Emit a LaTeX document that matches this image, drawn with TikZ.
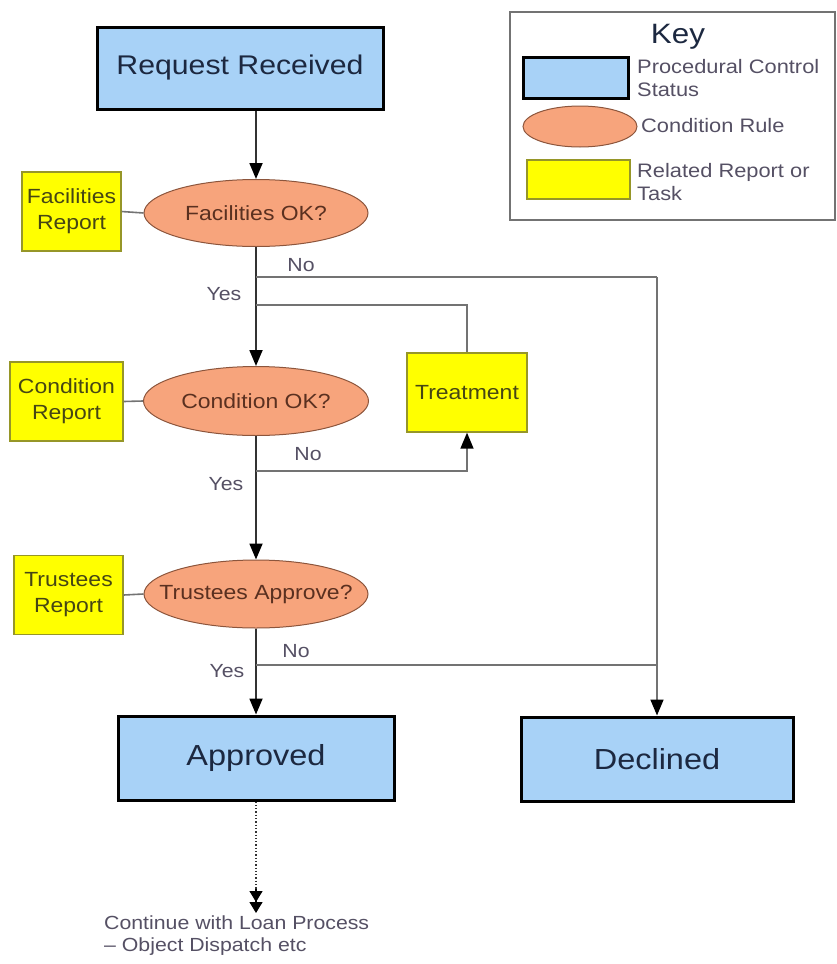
\documentclass[tikz,border=0pt]{standalone}
\usepackage{fontspec}
\setmainfont[FakeStretch=1.12]{Liberation Sans}
\usetikzlibrary{arrows.meta,shapes.geometric}
\definecolor{boxblue}{RGB}{168,210,247}
\definecolor{salmon}{RGB}{247,164,124}
\definecolor{ruleedge}{RGB}{140,85,60}
\definecolor{repyellow}{RGB}{255,255,0}
\definecolor{repedge}{RGB}{150,150,40}
\definecolor{navytext}{RGB}{28,40,64}
\definecolor{ruletext}{RGB}{90,48,32}
\definecolor{reptext}{RGB}{70,70,20}
\definecolor{labtext}{RGB}{85,80,100}
\definecolor{mainline}{RGB}{50,50,50}
\definecolor{branchline}{RGB}{115,115,115}
\newcommand\myfs[2]{\fontsize{#1}{#2}\selectfont}
\tikzset{
  status/.style={draw=black, line width=3pt, fill=boxblue, text=navytext},
  rulenode/.style={ellipse, draw=ruleedge, line width=1pt, fill=salmon, text=ruletext, inner sep=0pt, font=\myfs{20.5}{24}},
  report/.style={draw=repedge, line width=1.3pt, fill=repyellow, text=reptext, align=center, inner sep=0pt, font=\myfs{20.5}{26}},
  lab/.style={text=labtext, font=\myfs{19}{22}, inner sep=0pt},
  keytext/.style={text=labtext, font=\myfs{19.5}{23}, inner sep=0pt, align=left, anchor=west},
  flow/.style={draw=mainline, line width=1.8pt, -{Triangle[length=16pt,width=13pt,color=black]}},
  branch/.style={draw=branchline, line width=1.6pt},
  branchflow/.style={draw=branchline, line width=1.6pt, -{Triangle[length=16pt,width=13pt,color=black]}},
}
\begin{document}
\begin{tikzpicture}[x=1pt,y=-1pt]
\useasboundingbox (0,0) rectangle (837,964);

% Key
\node[draw=branchline, line width=1.2pt, minimum width=325, minimum height=208, inner sep=0pt] (keybox) at (672.5,116) {};
\node[text=navytext, font=\myfs{28}{30}, inner sep=0pt] (keytitle) at (678,37) {Key};
\node[status, minimum width=105, minimum height=41, inner sep=0pt] (kstatus) at (575.5,77.5) {};
\node[ellipse, draw=ruleedge, line width=1pt, fill=salmon, minimum width=114, minimum height=41, inner sep=0pt] (krule) at (580,126.5) {};
\node[draw=repedge, line width=1.3pt, fill=repyellow, minimum width=103, minimum height=39, inner sep=0pt] (krep) at (578.5,179.5) {};
\node[keytext] (kstatustxt) at (637,78.5) {Procedural Control\\Status};
\node[keytext] (kruletxt) at (641,126) {Condition Rule};
\node[keytext] (kreptxt) at (637,182) {Related Report or\\Task};

% Main nodes
\node[status, minimum width=286, minimum height=82, font=\myfs{27}{30}] (req) at (240,68) {Request Received};
\node[rulenode, minimum width=224, minimum height=67] (fac) at (256,213) {\makebox[0pt]{Facilities OK?}};
\node[rulenode, minimum width=225, minimum height=69] (cond) at (256,401) {\makebox[0pt]{Condition OK?}};
\node[rulenode, minimum width=224, minimum height=68] (trust) at (256,594) {\makebox[0pt]{Trustees Approve?}};

\node[report, minimum width=99, minimum height=79] (facrep) at (71.5,211.5) {Facilities\\Report};
\node[report, minimum width=113, minimum height=79] (condrep) at (66.5,401.5) {Condition\\Report};
\node[report, minimum width=109, minimum height=79] (trustrep) at (68.5,595) {Trustees\\Report};
\node[report, minimum width=120, minimum height=79] (treat) at (467,392.5) {Treatment};

\node[status, minimum width=276, minimum height=84, font=\myfs{29}{32}] (appr) at (256,758) {Approved};
\node[status, minimum width=272, minimum height=84, font=\myfs{29}{32}] (decl) at (657,759) {Declined};

\node[lab, align=left, anchor=north west] (cont) at (104,916) {Continue with Loan Process\\– Object Dispatch etc};

% Labels
\node[lab] (no1) at (301,265) {No};
\node[lab] (yes1) at (224,294) {Yes};
\node[lab] (no2) at (308,454) {No};
\node[lab] (yes2) at (226,484) {Yes};
\node[lab] (no3) at (296,651) {No};
\node[lab] (yes3) at (227,671) {Yes};

% Junction coordinates
\coordinate (j1) at (256,277);
\coordinate (j1r) at (657,277);
\coordinate (jy) at (256,305);
\coordinate (j2) at (256,471);
\coordinate (j3) at (256,665);
\coordinate (cmid) at (256,889);
\coordinate (cend) at (256,913);

% Report links
\draw[branch] (facrep.east) -- (fac.west);
\draw[branch] (condrep.east) -- (cond.west);
\draw[branch] (trustrep.east) -- (trust.west);

% Main flow
\draw[flow] (fac.north |- req.south) -- (fac.north);
\draw[flow] (fac.south) -- (cond.north);
\draw[flow] (cond.south) -- (trust.north);
\draw[flow] (trust.south) -- (appr.north);

% Branches
\draw[branch] (j1) -- (j1r);
\draw[branchflow] (j1r) -- (decl.north);
\draw[branch] (j3) -- (j3 -| j1r);
\draw[branch] (treat.north) |- (jy);
\draw[branchflow] (j2) -| (treat.south);

% Continue
\draw[draw=mainline, line width=1.3pt, dotted] (appr.south) -- (cmid);
\draw[draw=black, line width=1.3pt, -{Triangle[length=11pt,width=13pt]Triangle[length=11pt,width=13pt]}] (cmid) -- (cend);
\end{tikzpicture}
\end{document}
